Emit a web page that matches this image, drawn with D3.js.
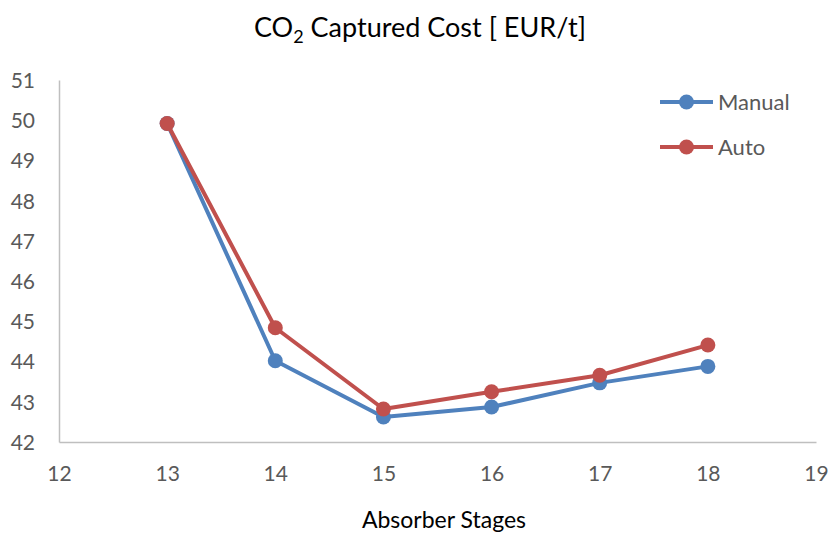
<!DOCTYPE html>
<html>
<head>
<meta charset="utf-8">
<script src="https://cdn.jsdelivr.net/npm/d3@7"></script>
<style>
  html, body { margin: 0; padding: 0; background: #fff; }
  svg { display: block; font-family: Lato, "Open Sans", sans-serif; }
</style>
</head>
<body>
<svg id="chart" width="830" height="536"></svg>
<script>
// Absorber stage counts and captured-cost series
const stages = [13, 14, 15, 16, 17, 18];
const manualCost = [49.92, 44.02, 42.62, 42.87, 43.47, 43.88];
const autoCost = [49.92, 44.84, 42.82, 43.25, 43.66, 44.41];
const xTicks = [12, 13, 14, 15, 16, 17, 18, 19];
const yTicks = [42, 43, 44, 45, 46, 47, 48, 49, 50, 51];
const seriesNames = ["Manual", "Auto"];

const svg = d3.select("#chart");
const colors = { Manual: "#4F81BD", Auto: "#C0504D" };

const x = d3.scaleLinear().domain([12, 19]).range([59, 816]);
const y = d3.scaleLinear().domain([42, 51]).range([442, 80]);

// Title with subscript
const title = svg.append("text")
  .attr("x", 420).attr("y", 37)
  .attr("text-anchor", "middle")
  .attr("font-size", 27)
  .attr("fill", "#000");
title.append("tspan").text("CO");
title.append("tspan").attr("font-size", 18).attr("dy", 6).text("2");
title.append("tspan").attr("dy", -6).text(" Captured Cost [ EUR/t]");

// Axes
const xAxis = svg.append("g")
  .attr("transform", `translate(0,${y(42)})`)
  .call(d3.axisBottom(x).tickValues(xTicks).tickSize(0).tickPadding(24).tickFormat(d3.format("d")));
const yAxis = svg.append("g")
  .attr("transform", `translate(${x(12)},0)`)
  .call(d3.axisLeft(y).tickValues(yTicks).tickSize(0).tickPadding(24).tickFormat(d3.format("d")));

[xAxis, yAxis].forEach(g => {
  g.select(".domain").attr("stroke", "#BFBFBF").attr("stroke-width", 1.5);
  g.selectAll("text")
    .attr("font-family", "Lato, 'Open Sans', sans-serif")
    .attr("font-size", 21)
    .attr("fill", "#595959");
});
yAxis.selectAll("text").attr("dy", "0.35em");

// Axis title
svg.append("text")
  .attr("x", 444).attr("y", 528)
  .attr("text-anchor", "middle")
  .attr("font-size", 23)
  .attr("fill", "#000")
  .text("Absorber Stages");

const line = d3.line().x(d => x(d[0])).y(d => y(d[1]));

const series = [
  { name: "Manual", values: stages.map((s, i) => [s, manualCost[i]]) },
  { name: "Auto", values: stages.map((s, i) => [s, autoCost[i]]) }
];

series.forEach(s => {
  const g = svg.append("g");
  g.append("path")
    .datum(s.values)
    .attr("d", line)
    .attr("fill", "none")
    .attr("stroke", colors[s.name])
    .attr("stroke-width", 4)
    .attr("stroke-linejoin", "round");
  g.selectAll("circle")
    .data(s.values)
    .join("circle")
    .attr("cx", d => x(d[0]))
    .attr("cy", d => y(d[1]))
    .attr("r", 7.5)
    .attr("fill", colors[s.name]);
});

// Legend
const legend = svg.append("g");
seriesNames.forEach((name, i) => {
  const ly = 102 + i * 45;
  legend.append("line")
    .attr("x1", 660).attr("x2", 713)
    .attr("y1", ly).attr("y2", ly)
    .attr("stroke", colors[name]).attr("stroke-width", 4);
  legend.append("circle")
    .attr("cx", 686.5).attr("cy", ly).attr("r", 7.5)
    .attr("fill", colors[name]);
  legend.append("text")
    .attr("x", 718).attr("y", ly)
    .attr("dy", "0.35em")
    .attr("font-size", 22)
    .attr("fill", "#595959")
    .text(name);
});
</script>
</body>
</html>
